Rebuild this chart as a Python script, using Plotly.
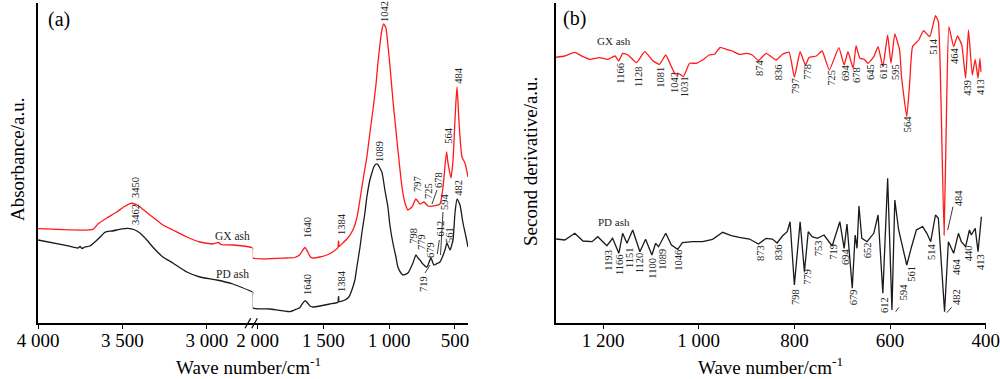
import plotly.graph_objects as go

# ---------------- Panel (a): FTIR absorbance (a.u.) ----------------
# segment before the axis break (4000 -> ~2730 cm-1)
gx_a_w1 = [4000, 3675, 3645, 3592, 3533, 3490, 3450, 3420, 3396, 3337, 3260, 3201, 3118, 3041, 2964, 2929, 2917, 2846, 2746, 2728]
gx_a_v1 = [94, 93.4, 98.7, 104.7, 110.7, 116, 119.4, 118.3, 115.7, 107.7, 97.7, 92.7, 85.7, 80.7, 78.7, 80.2, 78.2, 77.7, 75.7, 74.7]
pd_a_w1 = [4000, 3828, 3763, 3751, 3740, 3722, 3692, 3663, 3633, 3609, 3592, 3562, 3533, 3503, 3467, 3432, 3396, 3355, 3320, 3260, 3201, 3118, 3041, 2941, 2846, 2728]
pd_a_v1 = [82.7, 77, 74.7, 76.2, 74.2, 75.7, 76.7, 80.7, 85.4, 89.7, 91, 91.7, 92.7, 93.9, 94.4, 93.2, 89.7, 82.7, 75.7, 65.7, 59.7, 50.7, 45.7, 42.7, 38.7, 30.7]
# segment after the axis break (~2040 -> 400 cm-1)
gx_a_w2 = [2038, 2038, 1779, 1718, 1680, 1660, 1640, 1620, 1600, 1581, 1528, 1474, 1414, 1390, 1386, 1384, 1382,
           1353, 1315, 1276, 1246, 1223, 1193, 1170, 1147, 1124, 1101, 1086, 1071, 1056, 1042, 1025, 1010, 995, 972,
           949, 934, 903, 880, 858, 827, 797, 766, 736, 705, 652, 614, 591, 564, 553, 530, 515, 500, 492, 484, 469,
           447, 424, 401]
gx_a_v2 = [74.7, 64.7, 64.7, 65.2, 68, 72, 75.2, 71, 66, 64.7, 65.7, 67.7, 72.2, 75, 81.5, 81.5, 76,
           79.7, 84.7, 92.7, 104.7, 122.7, 147.7, 165.7, 189.7, 212.7, 237.7, 259.7, 277.7, 292.7, 298.7, 294.7, 277.7, 257.7, 222.7,
           192.7, 172.7, 135.7, 119.7, 112.7, 115.7, 123.7, 118.7, 120.7, 116.7, 117, 118.7, 135.7, 170.7, 159.7, 144.7, 162.7, 202.7, 222.7, 235.7, 199.7,
           165.7, 159.7, 145.7]
pd_a_w2 = [2038, 2038, 1909, 1756, 1703, 1680, 1660, 1640, 1620, 1600, 1581, 1528, 1452, 1390, 1386, 1384, 1382,
           1337, 1307, 1284, 1261, 1246, 1223, 1208, 1185, 1170, 1147, 1132, 1117, 1101, 1086, 1071, 1056, 1048, 1033,
           1010, 995, 972, 949, 934, 911, 896, 858, 820, 797, 781, 766, 751, 713, 683, 660, 629, 614, 599, 576, 561,
           538, 515, 500, 484, 462, 439, 416, 401]
pd_a_v2 = [30.7, 14.7, 13.7, 11, 13.7, 15, 19, 22, 19.5, 16.5, 15.7, 16.7, 18.7, 20.5, 26, 26, 21,
           22.7, 25.7, 32.7, 42.7, 55.7, 74.7, 89.7, 109.7, 125.7, 142.7, 149.7, 155.7, 158.7, 158.2, 154.7, 150.7, 145.7, 132.7,
           115.7, 97.7, 79.7, 65.7, 55.7, 49.7, 47.7, 49.7, 59.7, 67.7, 64.7, 62.7, 59.7, 55.7, 64.7, 57.7, 59.7, 60.7, 64.7, 72.7, 79.7,
           72.7, 82.7, 109.7, 123.7, 117.7, 99.7, 85.7, 75.7]

# ---------------- Panel (b): second derivative (a.u.) ----------------
gx_b_w = [1299, 1280, 1259, 1242, 1228, 1207, 1190, 1175, 1167, 1159, 1148, 1130, 1113, 1096, 1082, 1069, 1057, 1050,
          1040, 1032, 1019, 1005, 992, 978, 967, 955, 942, 930, 915, 900, 888, 875, 859, 838, 825, 811, 800, 788,
          777, 769, 754, 742, 727, 707, 696, 688, 677, 671, 663, 654, 646, 634, 625, 615, 605, 598, 590, 580, 576,
          565, 559, 553, 540, 530, 517, 505, 499, 493.5, 487, 481.5, 477, 467, 459, 450, 442, 436, 428, 422, 416,
          412, 410]
gx_b_v = [265.4, 266.7, 270.4, 266, 263.4, 265, 263.4, 266.7, 261.7, 269.4, 267.7, 260, 271, 262, 258.4, 267.7, 256, 249.4,
          248.7, 246, 259.4, 259.4, 262.7, 267.7, 268.4, 275.4, 273.4, 271.7, 268.4, 269.4, 267.7, 262.2, 269.4, 262.7, 268.4, 270.4, 245.4, 271,
          257.7, 265.4, 266.7, 271.7, 252.7, 275, 257.7, 271, 254.4, 277, 264.4, 263.4, 259.4, 266, 276, 256, 287.7, 259.4, 288.7, 272.7, 246,
          206, 239.4, 276, 282.7, 292, 286, 307, 301, 222.7, 87.7, 222.7, 296, 276, 286.7, 277.7, 244.4, 292.7, 247.7, 263.4, 244.4,
          264.4, 251]
pd_b_w = [1298, 1280, 1259, 1242, 1223, 1211, 1192, 1180, 1167, 1159, 1150, 1138, 1123, 1111, 1098, 1090, 1084, 1069,
          1057, 1044, 1034, 1013, 992, 971, 950, 932, 915, 894, 875, 859, 846, 836, 825, 815, 809, 800, 788, 779,
          771, 763, 752, 738, 721, 705, 696, 690, 679, 673, 669, 665, 659, 648, 634, 625, 615, 605, 596, 590, 582,
          565, 555, 545, 532, 523, 515, 505, 499, 486, 478, 467, 457, 451, 442, 434, 430, 422, 416, 409]
pd_b_v = [83.7, 82.7, 89.4, 81.7, 81, 86, 77, 84.4, 69.4, 89.4, 79.4, 92.7, 71, 83.4, 67.7, 79.4, 76, 89.4,
          77.7, 73.4, 80, 81, 81, 83.4, 90.4, 87, 85.4, 83.7, 78.7, 84.4, 83.7, 79.7, 86.7, 91, 101, 37.7, 101, 51,
          91, 86, 84.4, 87.7, 76.7, 101, 74.4, 98.7, 34.4, 87.7, 74.4, 116.7, 84.4, 81, 89.4, 107.7, 29.4, 144.4, 12.7, 122.7, 92.7,
          57.7, 76, 92.7, 96, 89.4, 81, 107.7, 104.4, 11, 81, 69.4, 89.4, 81, 76, 92.7, 87.7, 94.4, 71, 106]

# axis tick labels
a_tick1_vals = [4000, 3500, 3000]
a_tick1_text = ["4 000", "3 500", "3 000"]
a_tick2_vals = [2000, 1500, 1000, 500]
a_tick2_text = ["2 000", "1 500", "1 000", "500"]
b_tick_vals = [1200, 1000, 800, 600, 400]
b_tick_text = ["1 200", "1 000", "800", "600", "400"]

# peak labels (text) with their on-page placement (pixels)
a_peak_labels = [("3450", 135, 188), ("3462", 135, 215), ("1640", 307, 228), ("1384", 341, 224),
                 ("1042", 384, 12), ("1089", 379, 152), ("797", 418, 184), ("725", 428, 191), ("678", 438, 180),
                 ("564", 447.7, 135), ("484", 457.7, 75), ("1640", 307, 285), ("1384", 341, 281),
                 ("798", 412.7, 236), ("779", 421, 242), ("679", 430, 250), ("612", 439.5, 229),
                 ("594", 444, 202), ("561", 449, 235), ("482", 457.7, 188), ("719", 423, 284)]
b_peak_labels = [("1166", 620.7, 73), ("1128", 639, 77), ("1081", 660.7, 77), ("1042", 675, 83), ("1031", 684.3, 87),
                 ("874", 760, 68), ("836", 778.3, 72), ("797", 796, 86), ("778", 806.7, 72), ("725", 830.7, 78),
                 ("694", 846, 73), ("678", 856, 75), ("645", 870, 72), ("613", 884, 71), ("595", 895, 72),
                 ("564", 908.3, 124), ("514", 932.7, 46), ("464", 955, 56), ("439", 967.7, 88), ("413", 980, 87),
                 ("484", 958.3, 198),
                 ("1193", 607.7, 260), ("1166", 619, 265), ("1151", 629, 258), ("1120", 639.3, 263), ("1100", 651.7, 268),
                 ("1089", 661.7, 259), ("1046", 677.7, 260), ("873", 760, 253), ("836", 778.3, 252), ("798", 795, 297),
                 ("779", 806.7, 277), ("753", 818.3, 248), ("719", 832.7, 252), ("694", 845, 257), ("679", 853.3, 297),
                 ("652", 867.3, 250), ("612", 884, 305), ("594", 903.3, 292), ("561", 910.7, 274), ("514", 931, 252),
                 ("482", 956, 297), ("464", 956, 267), ("440", 968.3, 253), ("413", 980, 262)]
leader_lines = [(437, 190, 432, 204), (439.3, 240, 437.3, 254), (443, 212, 440.5, 255), (425, 273, 430, 265),
                (953, 206.7, 947.7, 230), (899, 307.3, 895.7, 311.7), (951.7, 307.3, 946.7, 312.7)]

W, H = 1000, 379
SERIF = "Liberation Serif, Times New Roman, serif"
RED = "#ff1a1a"
BLK = "#1a1a1a"


def px(x, y):
    return x / W, 1 - y / H


def dx(x):
    return x / W


AXIS_Y = 322.7  # pixel row of the x axis line
TOP_Y = 3       # pixel row of the top of the y axis line
Y_DOM = [px(0, AXIS_Y)[1], px(0, TOP_Y)[1]]
Y_RANGE = [0, AXIS_Y - TOP_Y]

fig = go.Figure()
lw = 1.3
sm = dict(shape="spline", smoothing=0.5)
fig.add_trace(go.Scatter(x=pd_a_w1, y=pd_a_v1, mode="lines", line=dict(color=BLK, width=lw, **sm), xaxis="x", yaxis="y"))
fig.add_trace(go.Scatter(x=gx_a_w1, y=gx_a_v1, mode="lines", line=dict(color=RED, width=lw, **sm), xaxis="x", yaxis="y"))
fig.add_trace(go.Scatter(x=pd_a_w2, y=pd_a_v2, mode="lines", line=dict(color=BLK, width=lw, **sm), xaxis="x2", yaxis="y"))
fig.add_trace(go.Scatter(x=gx_a_w2, y=gx_a_v2, mode="lines", line=dict(color=RED, width=lw, **sm), xaxis="x2", yaxis="y"))
fig.add_trace(go.Scatter(x=pd_b_w, y=pd_b_v, mode="lines", line=dict(color=BLK, width=lw), xaxis="x3", yaxis="y2"))
fig.add_trace(go.Scatter(x=gx_b_w, y=gx_b_v, mode="lines", line=dict(color=RED, width=lw, shape="spline", smoothing=0.4),
                         xaxis="x3", yaxis="y2"))

tickfont = dict(family=SERIF, size=19, color="black")
xcommon = dict(showgrid=False, zeroline=False, showline=True, linecolor="black", linewidth=1.5, automargin=False,
               ticks="outside", ticklen=5, tickwidth=1.3, tickcolor="black", tickfont=tickfont,
               ticklabelstandoff=-5)
ycommon = dict(showgrid=False, zeroline=False, showline=True, linecolor="black", linewidth=1.5, automargin=False,
               ticks="", showticklabels=False, domain=Y_DOM, range=Y_RANGE)

fig.update_layout(
    template="none",
    width=W, height=H, margin=dict(l=0, r=0, t=0, b=0, pad=0),
    paper_bgcolor="white", plot_bgcolor="white", showlegend=False,
    xaxis=dict(domain=[dx(38), dx(252.7)], range=[4000, 2728], anchor="y",
               tickvals=a_tick1_vals, ticktext=a_tick1_text, **xcommon),
    xaxis2=dict(domain=[dx(252.7), dx(468)], range=[2038, 401], anchor="y",
                tickvals=a_tick2_vals, ticktext=a_tick2_text, **xcommon),
    xaxis3=dict(domain=[dx(555.7), dx(985.7)], range=[1299, 400], anchor="y2",
                tickvals=b_tick_vals, ticktext=b_tick_text, **xcommon),
    yaxis=dict(anchor="x", **ycommon),
    yaxis2=dict(anchor="x3", **ycommon),
)

ann = []
for t, x, y in a_peak_labels + b_peak_labels:
    ax, ay = px(x, y)
    ann.append(dict(text=t, x=ax, y=ay, xref="paper", yref="paper", showarrow=False, textangle=-90,
                    xanchor="center", yanchor="middle", font=dict(family=SERIF, size=10.5, color="#222")))
for t, x, y, s in [("GX ash", 232, 236, 11.5), ("PD ash", 232, 274, 11.5), ("GX ash", 614, 41, 11), ("PD ash", 614, 222, 11)]:
    ax, ay = px(x, y)
    ann.append(dict(text=t, x=ax, y=ay, xref="paper", yref="paper", showarrow=False,
                    xanchor="center", yanchor="middle", font=dict(family=SERIF, size=s, color="#222")))
for t, x, y in [("(a)", 59, 20), ("(b)", 574, 18)]:
    ax, ay = px(x, y)
    ann.append(dict(text=t, x=ax, y=ay, xref="paper", yref="paper", showarrow=False,
                    xanchor="center", yanchor="middle", font=dict(family=SERIF, size=20, color="black")))
for x in [248, 770]:
    ax, ay = px(x, 366)
    ann.append(dict(text="Wave number/cm<sup>-1</sup>", x=ax, y=ay, xref="paper", yref="paper", showarrow=False,
                    xanchor="center", yanchor="middle", font=dict(family=SERIF, size=19, color="black")))
for t, x, y in [("Absorbance/a.u.", 18, 160), ("Second derivative/a.u.", 530, 162)]:
    ax, ay = px(x, y)
    ann.append(dict(text=t, x=ax, y=ay, xref="paper", yref="paper", showarrow=False, textangle=-90,
                    xanchor="center", yanchor="middle", font=dict(family=SERIF, size=19, color="black")))
fig.update_layout(annotations=ann)

shapes = []
for x0, y0, x1, y1 in leader_lines:
    a0, b0 = px(x0, y0)
    a1, b1 = px(x1, y1)
    shapes.append(dict(type="line", xref="paper", yref="paper", x0=a0, y0=b0, x1=a1, y1=b1,
                       line=dict(color="#222", width=0.9)))
# axis break marks
for x0 in [245, 251.7]:
    a0, b0 = px(x0, 328.3)
    a1, b1 = px(x0 + 5.7, 318.3)
    shapes.append(dict(type="line", xref="paper", yref="paper", x0=a0, y0=b0, x1=a1, y1=b1,
                       line=dict(color="black", width=1.2)))
fig.update_layout(shapes=shapes)

# remove the browser's default page margin so the figure sits at the page origin
fig.write_html("out.html", config={"displayModeBar": False},
               post_script="document.body.style.margin='0';document.body.style.overflow='hidden';")
